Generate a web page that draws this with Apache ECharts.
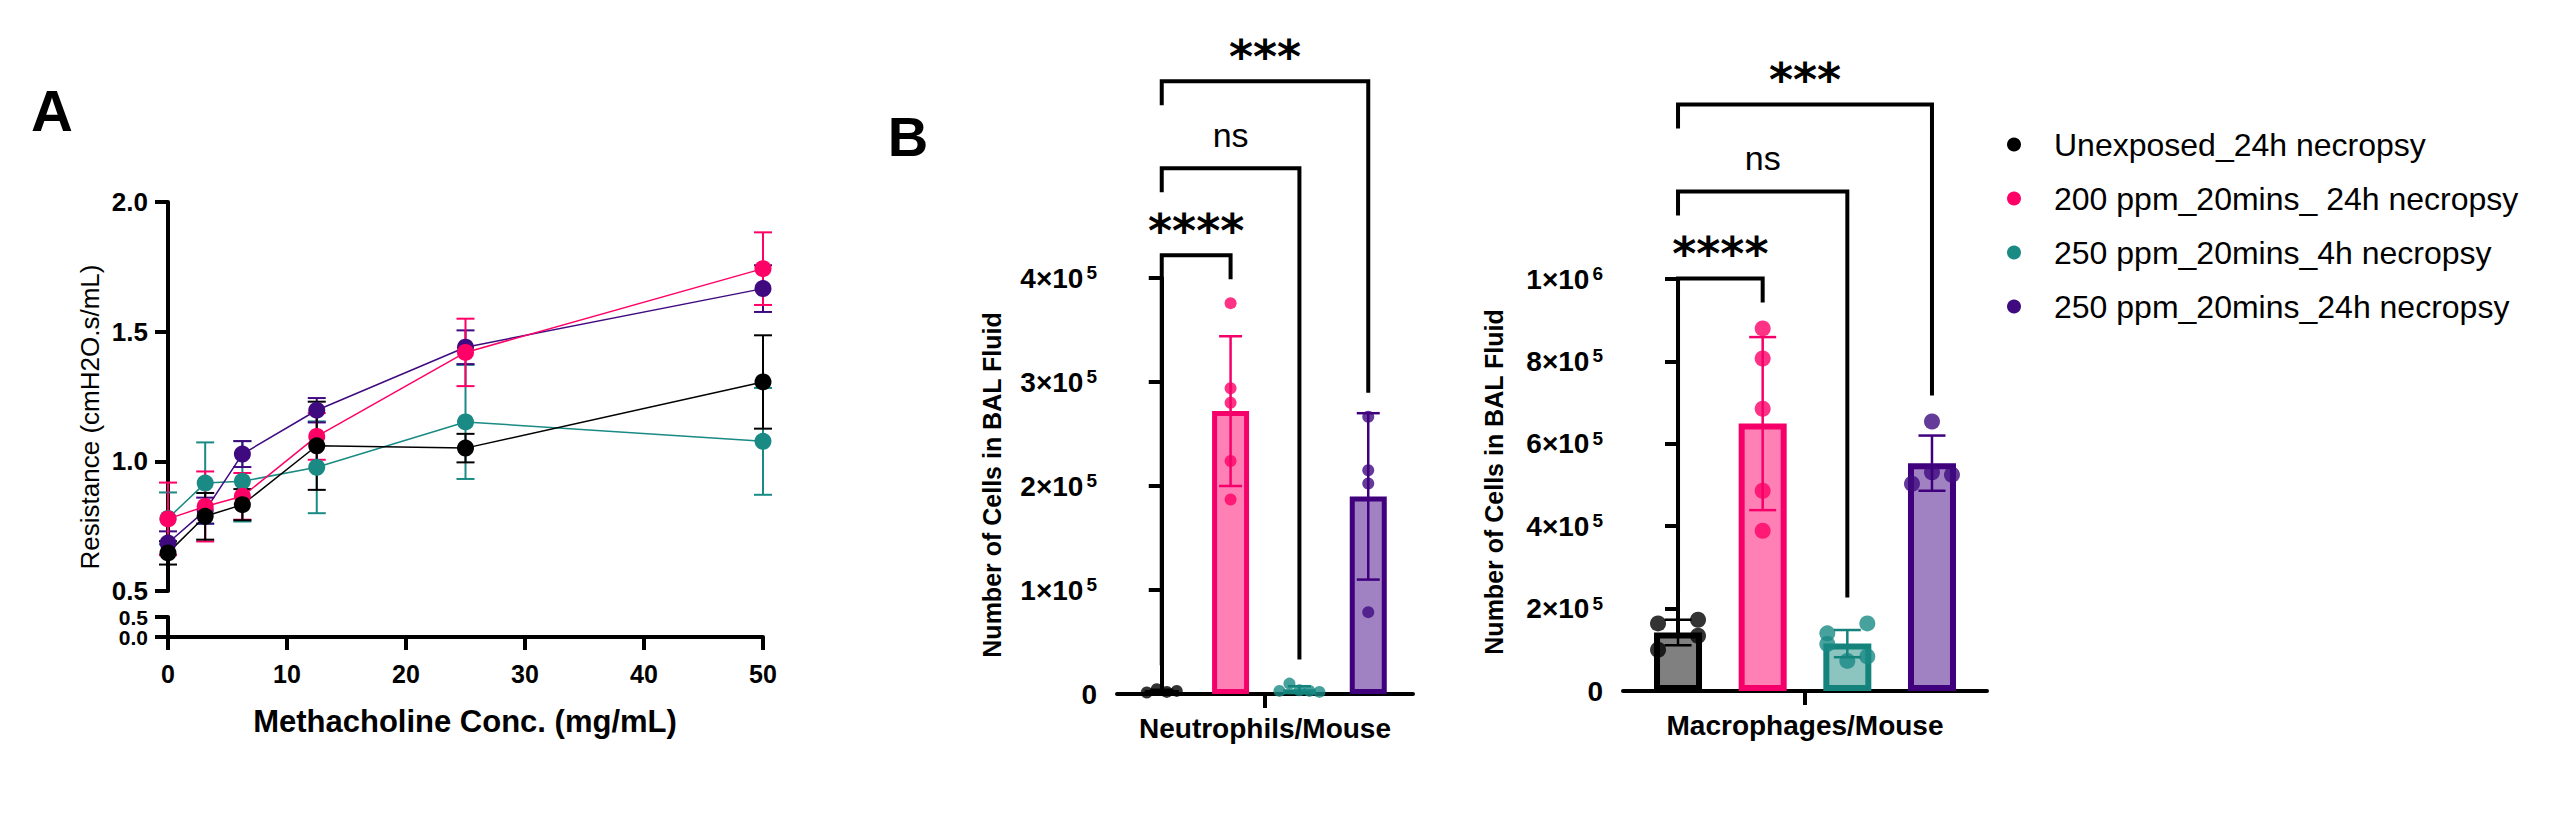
<!DOCTYPE html>
<html><head><meta charset="utf-8">
<script src="https://cdn.jsdelivr.net/npm/echarts@6/dist/echarts.min.js"></script>
<style>html,body{margin:0;padding:0;background:#fff}#c{width:2561px;height:835px}</style>
</head><body><div id="c"></div>
<script>
// ---------------- DATA ----------------
const groupNames = ['Unexposed_24h necropsy', '200 ppm_20mins_ 24h necropsy', '250 ppm_20mins_4h necropsy', '250 ppm_20mins_24h necropsy'];
// Panel A: methacholine dose response (mean ± SEM)
const conc = [0, 3.125, 6.25, 12.5, 25, 50];
const resUnexposed = [0.647, 0.788, 0.833, 1.060, 1.051, 1.306];
const errUnexposed = [0.045, 0.09, 0.06, 0.17, 0.055, 0.18];
const res200_24h = [0.778, 0.826, 0.865, 1.096, 1.420, 1.743];
const err200_24h = [0.14, 0.135, 0.09, 0.09, 0.13, 0.14];
const res250_4h = [0.780, 0.916, 0.923, 0.977, 1.152, 1.077];
const err250_4h = [0.10, 0.157, 0.155, 0.177, 0.22, 0.206];
const res250_24h = [0.685, 0.810, 1.028, 1.197, 1.440, 1.666];
const err250_24h = [0.045, 0.05, 0.05, 0.047, 0.065, 0.09];
// Panel B: BAL cell counts (individual mice, mean, SD)
const neutroDots = [
  [1500, 4500, 2000, 3000],
  [375800, 294000, 280000, 224000, 187000],
  [3000, 10000, 3500, 3000, 2000],
  [266600, 215200, 202400, 78700]
];
const neutroMean = [2750, 272000, 4300, 190000];
const neutroSD = [1300, 72000, 3200, 80000];
const macroDots = [
  [164000, 173000, 100000, 134000],
  [880000, 807000, 685000, 486000, 389000],
  [140000, 164000, 114000, 73000, 84000],
  [654000, 503000, 531000, 525000]
];
const macroMean = [142000, 649000, 115000, 553000];
const macroSD = [31000, 210000, 33000, 67000];
const comparisons = [[0, 1], [0, 2], [0, 3]];
const neutroSig = ['****', 'ns', '***'];
const macroSig = ['****', 'ns', '***'];

// ---------------- STYLE ----------------
const FONT = "'Liberation Sans', Arial, Helvetica, sans-serif";
const C_BLACK = '#000000', C_PINK = '#FF0066', C_TEAL = '#198A84', C_PURPLE = '#3F0A80';
const dotColors = [C_BLACK, C_PINK, C_TEAL, C_PURPLE];
const barFill = ['#808080', '#FF80B4', '#8CC4C0', '#A082C3'];
const barBorder = ['#000000', '#F5006A', '#14837C', '#40007D'];

const chart = echarts.init(document.getElementById('c'), null, {renderer: 'svg', width: 2561, height: 835});

const axisLineS = {show: true, lineStyle: {color: '#000', width: 4}};
const tickS = {show: true, inside: false, length: 13, lineStyle: {color: '#000', width: 4}};
const lblS = {show: true, color: '#000', fontFamily: FONT, fontWeight: 'bold', fontSize: 26, hideOverlap: false, showMinLabel: true, showMaxLabel: true};

const G_A_UP = {left: 168, top: 202, width: 595, height: 389};
const G_A_LO = {left: 168, top: 617, width: 595, height: 20};
const G_N = {left: 1117, top: 278, width: 296, height: 416};
const G_M = {left: 1623, top: 279, width: 364, height: 412};
const NEU_MAX = 400000, MAC_MAX = 1000000;

function sciLabel(v) {
  if (v === 0) return '{b|0}';
  const e = Math.floor(Math.log10(v) + 1e-9);
  const m = Math.round(v / Math.pow(10, e));
  return '{b|' + m + '×10}{s|' + e + '}';
}
const sciRich = {
  b: {fontFamily: FONT, fontWeight: 'bold', fontSize: 28, color: '#000', lineHeight: 30},
  s: {fontFamily: FONT, fontWeight: 'bold', fontSize: 19, color: '#000', lineHeight: 12, verticalAlign: 'top', padding: [0, 0, 0, 3]}
};

function swarm(vals, pxPerUnit, diam, col) {
  const order = vals.map((v, i) => i).sort((a, b) => vals[b] - vals[a]);
  const rows = [];
  let cur = null;
  order.forEach(i => {
    const p = vals[i] * pxPerUnit;
    if (cur && cur.top - p < diam) cur.items.push(i);
    else { cur = {top: p, items: [i]}; rows.push(cur); }
  });
  const off = new Array(vals.length).fill(0);
  rows.forEach(r => {
    const items = r.items.slice().sort((a, b) => a - b);
    const n = items.length;
    items.forEach((i, k) => { off[i] = n === 2 ? (k === 0 ? -col : col) : (k - (n - 1) / 2) * col; });
  });
  return off;
}

const series = [];
// ---- Panel A ----
const groupsA = [
  {name: groupNames[2], vals: res250_4h, err: err250_4h, color: C_TEAL},
  {name: groupNames[3], vals: res250_24h, err: err250_24h, color: C_PURPLE},
  {name: groupNames[1], vals: res200_24h, err: err200_24h, color: C_PINK},
  {name: groupNames[0], vals: resUnexposed, err: errUnexposed, color: C_BLACK}
];
groupsA.forEach(g => {
  series.push({
    type: 'custom', xAxisIndex: 0, yAxisIndex: 0, silent: true, clip: false,
    data: conc.map((c, i) => [c, g.vals[i], g.err[i]]),
    renderItem(params, api) {
      const x = api.value(0), y = api.value(1), e = api.value(2);
      const hi = api.coord([x, y + e]), lo = api.coord([x, y - e]);
      const w = 9, st = {stroke: g.color, lineWidth: 2};
      return {type: 'group', children: [
        {type: 'line', shape: {x1: hi[0], y1: hi[1], x2: lo[0], y2: lo[1]}, style: st},
        {type: 'line', shape: {x1: hi[0] - w, y1: hi[1], x2: hi[0] + w, y2: hi[1]}, style: st},
        {type: 'line', shape: {x1: lo[0] - w, y1: lo[1], x2: lo[0] + w, y2: lo[1]}, style: st}
      ]};
    }
  });
  series.push({
    name: g.name, type: 'line', xAxisIndex: 0, yAxisIndex: 0,
    data: conc.map((c, i) => [c, g.vals[i]]),
    symbol: 'circle', symbolSize: 17, showSymbol: true,
    itemStyle: {color: g.color}, lineStyle: {color: g.color, width: 1.5},
    emphasis: {disabled: true}, animation: false
  });
});

// ---- Panel B ----
function addBarPanel(xIdx, yIdx, dots, means, sds, maxV, grid, diam, col, capW, bw, borderW, sig) {
  const ppu = grid.height / maxV;
  series.push({
    type: 'bar', xAxisIndex: xIdx, yAxisIndex: yIdx, barWidth: bw, silent: true,
    data: means.map((m, g) => ({value: [g, m], itemStyle: {color: barFill[g], borderColor: barBorder[g], borderWidth: borderW}})),
    animation: false, z: 2
  });
  const sdata = [];
  dots.forEach((arr, g) => {
    const off = swarm(arr, ppu, diam, col);
    arr.forEach((v, i) => sdata.push({value: [g, v], symbolOffset: [off[i], 0], itemStyle: {color: dotColors[g]}}));
  });
  series.push({type: 'scatter', xAxisIndex: xIdx, yAxisIndex: yIdx, symbol: 'circle', symbolSize: diam, data: sdata, silent: true, animation: false, z: 3});
  series.push({
    type: 'custom', xAxisIndex: xIdx, yAxisIndex: yIdx, silent: true, clip: false, z: 4,
    data: means.map((m, g) => [g, m, sds[g]]),
    renderItem(params, api) {
      const x = api.value(0), y = api.value(1), e = api.value(2);
      const hi = api.coord([x, y + e]), lo = api.coord([x, y - e]);
      const c = barBorder[params.dataIndex], st = {stroke: c, lineWidth: 2.5};
      return {type: 'group', children: [
        {type: 'line', shape: {x1: hi[0], y1: hi[1], x2: lo[0], y2: lo[1]}, style: st},
        {type: 'line', shape: {x1: hi[0] - capW / 2, y1: hi[1], x2: hi[0] + capW / 2, y2: hi[1]}, style: st},
        {type: 'line', shape: {x1: lo[0] - capW / 2, y1: lo[1], x2: lo[0] + capW / 2, y2: lo[1]}, style: st}
      ]};
    }
  });
  const groupTop = dots.map((arr, g) => Math.max(Math.max.apply(null, arr) + diam / 2 / ppu, means[g] + sds[g]));
  series.push({
    type: 'custom', xAxisIndex: xIdx, yAxisIndex: yIdx, silent: true, clip: false, z: 5,
    data: comparisons,
    renderItem(params, api) {
      const legEnd = g => api.coord([g, groupTop[g]])[1] - 18;
      const k = params.dataIndex;
      let y = Math.min(legEnd(comparisons[0][0]), legEnd(comparisons[0][1])) - 24;
      for (let j = 1; j <= k; j++) y -= 87;
      const a = api.value(0), b = api.value(1);
      const xa = api.coord([a, 0])[0], xb = api.coord([b, 0])[0];
      const leftEnd = k === 0 ? legEnd(a) : y + 87 - 63;
      const rightEnd = legEnd(b);
      const lab = sig[k];
      const isStar = lab.indexOf('*') >= 0;
      return {type: 'group', children: [
        {type: 'polyline', shape: {points: [[xa, leftEnd], [xa, y], [xb, y], [xb, rightEnd]]}, style: {stroke: '#000', lineWidth: 4, fill: 'none'}},
        {type: 'text', x: (xa + xb) / 2, y: isStar ? y - 24 : y - 33,
         style: {text: lab, fill: '#000', align: 'center', verticalAlign: 'middle',
           fontFamily: isStar ? "'DejaVu Sans', sans-serif" : FONT, fontWeight: isStar ? 'bold' : 'normal', fontSize: isStar ? 46 : 34}}
      ]};
    }
  });
}
addBarPanel(2, 2, neutroDots, neutroMean, neutroSD, NEU_MAX, G_N, 12, 10, 23, 37, 5, neutroSig);
addBarPanel(4, 4, macroDots, macroMean, macroSD, MAC_MAX, G_M, 16, 20, 27, 48, 6, macroSig);

const hiddenX = (grid) => ({gridIndex: grid, type: 'value', min: -0.65, max: 3.65, show: false, position: 'top'});

const option = {
  backgroundColor: '#fff',
  animation: false,
  grid: [
    Object.assign({outerBoundsMode: 'none'}, G_A_UP),
    Object.assign({outerBoundsMode: 'none'}, G_A_LO),
    Object.assign({outerBoundsMode: 'none'}, G_N),
    Object.assign({outerBoundsMode: 'none'}, G_M)
  ],
  xAxis: [
    {gridIndex: 0, type: 'value', min: 0, max: 50, show: false},
    {gridIndex: 1, type: 'value', min: 0, max: 50, interval: 10, position: 'bottom',
     axisLine: Object.assign({onZero: false}, axisLineS), axisTick: tickS, splitLine: {show: false},
     axisLabel: Object.assign({}, lblS, {margin: 24, fontSize: 25})},
    hiddenX(2),
    {gridIndex: 2, type: 'category', data: ['Neutrophils/Mouse'], position: 'bottom',
     axisLine: Object.assign({onZero: false}, axisLineS), axisTick: Object.assign({}, tickS, {alignWithLabel: true, length: 14}),
     axisLabel: Object.assign({}, lblS, {fontSize: 28, margin: 20}), splitLine: {show: false}},
    hiddenX(3),
    {gridIndex: 3, type: 'category', data: ['Macrophages/Mouse'], position: 'bottom',
     axisLine: Object.assign({onZero: false}, axisLineS), axisTick: Object.assign({}, tickS, {alignWithLabel: true, length: 14}),
     axisLabel: Object.assign({}, lblS, {fontSize: 28, margin: 20}), splitLine: {show: false}}
  ],
  yAxis: [
    {gridIndex: 0, type: 'value', min: 0.5, max: 2.0, interval: 0.5, axisLine: axisLineS, axisTick: tickS, splitLine: {show: false},
     axisLabel: Object.assign({}, lblS, {margin: 20, lineHeight: 26, formatter: v => v.toFixed(1)})},
    // lower segment of the broken axis: line, ticks and the 0.0 label
    {gridIndex: 1, type: 'value', min: 0, max: 0.5, interval: 0.5, axisLine: axisLineS, axisTick: tickS, splitLine: {show: false},
     axisLabel: Object.assign({}, lblS, {margin: 20, fontSize: 21, lineHeight: 21, verticalAlign: 'middle', padding: [8, 0, 0, 0],
       formatter: v => (v === 0 ? v.toFixed(1) : '')})},
    {gridIndex: 2, type: 'value', min: 0, max: NEU_MAX, interval: 100000, axisLine: axisLineS, axisTick: tickS, splitLine: {show: false},
     axisLabel: Object.assign({}, lblS, {margin: 20, formatter: sciLabel, rich: sciRich})},
    // lower segment of the broken axis: the 0.5 label
    {gridIndex: 1, type: 'value', min: 0, max: 0.5, interval: 0.5, position: 'left', axisLine: {show: false}, axisTick: {show: false}, splitLine: {show: false},
     axisLabel: Object.assign({}, lblS, {margin: 20, fontSize: 21, lineHeight: 21, verticalAlign: 'middle', padding: [4, 0, 0, 0],
       formatter: v => (v === 0.5 ? v.toFixed(1) : '')})},
    {gridIndex: 3, type: 'value', min: 0, max: MAC_MAX, interval: 200000, axisLine: axisLineS, axisTick: tickS, splitLine: {show: false},
     axisLabel: Object.assign({}, lblS, {margin: 20, formatter: sciLabel, rich: sciRich})}
  ],
  legend: {
    data: groupNames, orient: 'vertical', left: 2002, top: 123, icon: 'circle',
    itemWidth: 14, itemHeight: 14, itemGap: 21, selectedMode: false,
    textStyle: {fontFamily: FONT, fontSize: 32, color: '#000', lineHeight: 33, padding: [0, 0, 0, 28]}
  },
  graphic: [
    {type: 'text', x: 52, y: 110, style: {text: 'A', fontFamily: FONT, fontWeight: 'bold', fontSize: 58, fill: '#000', align: 'center', verticalAlign: 'middle'}},
    {type: 'text', x: 908, y: 136, style: {text: 'B', fontFamily: FONT, fontWeight: 'bold', fontSize: 56, fill: '#000', align: 'center', verticalAlign: 'middle'}},
    {type: 'text', x: 90, y: 417, rotation: Math.PI / 2, style: {text: 'Resistance (cmH2O.s/mL)', fontFamily: FONT, fontSize: 26, fill: '#000', align: 'center', verticalAlign: 'middle'}},
    {type: 'text', x: 465, y: 721, style: {text: 'Methacholine Conc. (mg/mL)', fontFamily: FONT, fontWeight: 'bold', fontSize: 31, fill: '#000', align: 'center', verticalAlign: 'middle'}},
    {type: 'text', x: 992, y: 485, rotation: Math.PI / 2, style: {text: 'Number of Cells in BAL Fluid', fontFamily: FONT, fontWeight: 'bold', fontSize: 25, fill: '#000', align: 'center', verticalAlign: 'middle'}},
    {type: 'text', x: 1494, y: 482, rotation: Math.PI / 2, style: {text: 'Number of Cells in BAL Fluid', fontFamily: FONT, fontWeight: 'bold', fontSize: 25, fill: '#000', align: 'center', verticalAlign: 'middle'}}
  ],
  series: series
};
chart.setOption(option);
</script>
</body></html>
